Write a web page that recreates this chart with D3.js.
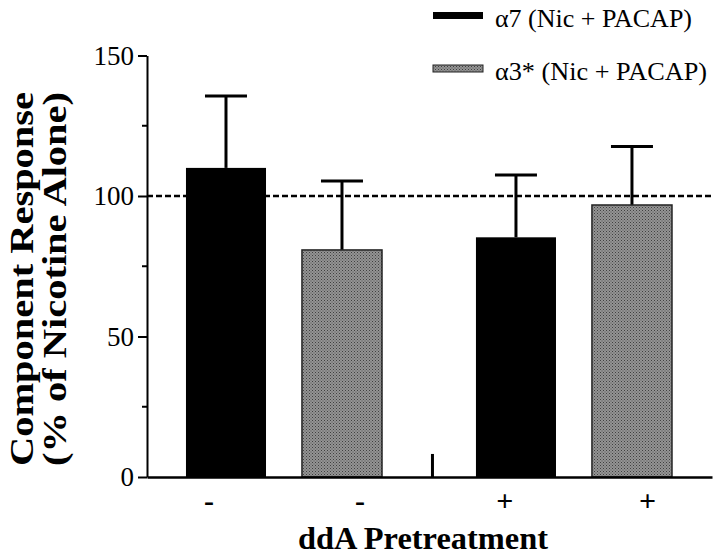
<!DOCTYPE html>
<html><head><meta charset="utf-8">
<script src="https://cdn.jsdelivr.net/npm/d3@7"></script>
<style>body{margin:0;background:#fff}</style></head>
<body>
<svg id="c" width="720" height="555"></svg>
<script>
// ---- data ----
const categories = ["-", "-", "+", "+"];
const seriesOfBar = [0, 1, 0, 1];
const barValues = [110, 80.8, 85.3, 96.8];
const errorTops = [135.6, 105.3, 107.5, 117.6];
const slotIndex = [0, 1, 2.5, 3.5];
const labelSlots = [-0.15, 1.15, 2.4, 3.63];
const spacerSlot = [1.78];
const spacerError = [8.2];
const yTicks = [0, 50, 100, 150];
const yMinorTicks = [25, 75, 125];
const referenceLine = [100];
const legendLabels = ["α7 (Nic + PACAP)", "α3* (Nic + PACAP)"];
const seriesColors = ["#000000", "#8e8e8e"];

const svg = d3.select("#c");
const serif = "Liberation Serif, Times New Roman, serif";

const x = d3.scaleLinear().domain([-0.681, 4.19]).range([147, 712]);
const y = d3.scaleLinear().domain([0, 150]).range([477, 55.5]);
const halfW = 0.345;

// texture pattern for grey bars
const defs = svg.append("defs");
const pat = defs.append("pattern").attr("id", "dots").attr("width", 3).attr("height", 3)
  .attr("patternUnits", "userSpaceOnUse");
pat.append("rect").attr("width", 3).attr("height", 3).attr("fill", "#949494");
pat.append("rect").attr("x", 0).attr("y", 0).attr("width", 1).attr("height", 1).attr("fill", "#404040");
pat.append("rect").attr("x", 1.5).attr("y", 1.5).attr("width", 1).attr("height", 1).attr("fill", "#505050");
const fills = [seriesColors[0], "url(#dots)"];

// reference dashed line
svg.selectAll("line.ref").data(referenceLine).join("line").attr("class", "ref")
  .attr("x1", x(-0.681)).attr("x2", x(4.19))
  .attr("y1", d => y(d)).attr("y2", d => y(d))
  .attr("stroke", "#000").attr("stroke-width", 2.5).attr("stroke-dasharray", "6,3");

// error bars
const eb = svg.append("g");
barValues.forEach((v, i) => {
  const cx = x(slotIndex[i]);
  eb.append("line").attr("x1", cx).attr("x2", cx).attr("y1", y(v)).attr("y2", y(errorTops[i]))
    .attr("stroke", "#000").attr("stroke-width", 3);
  eb.append("line").attr("x1", cx - 21).attr("x2", cx + 21).attr("y1", y(errorTops[i])).attr("y2", y(errorTops[i]))
    .attr("stroke", "#000").attr("stroke-width", 3);
});
spacerSlot.forEach((s, i) => {
  eb.append("line").attr("x1", x(s)).attr("x2", x(s)).attr("y1", y(0)).attr("y2", y(spacerError[i]))
    .attr("stroke", "#000").attr("stroke-width", 3);
});

// bars
svg.append("g").selectAll("rect").data(barValues).join("rect")
  .attr("x", (d, i) => x(slotIndex[i] - halfW))
  .attr("width", (d, i) => x(slotIndex[i] + halfW) - x(slotIndex[i] - halfW))
  .attr("y", d => y(d))
  .attr("height", d => y(0) - y(d))
  .attr("fill", (d, i) => fills[seriesOfBar[i]])
  .attr("stroke", (d, i) => seriesOfBar[i] ? "#222" : "none")
  .attr("stroke-width", 1.5);

// y axis
const yAxis = svg.append("g").attr("transform", `translate(${x(-0.681)},0)`)
  .call(d3.axisLeft(y).tickValues(yTicks).tickSize(9).tickSizeOuter(0).tickPadding(4));
yAxis.attr("font-family", serif);
yAxis.select(".domain").attr("stroke-width", 2);
yAxis.selectAll(".tick line").attr("stroke-width", 2);
yAxis.selectAll("text").attr("font-family", serif).attr("font-size", 27).attr("fill", "#000");
svg.append("g").selectAll("line").data(yMinorTicks).join("line")
  .attr("x1", x(-0.681) - 5).attr("x2", x(-0.681)).attr("y1", d => y(d)).attr("y2", d => y(d))
  .attr("stroke", "#000").attr("stroke-width", 2);

// x axis
const xAxis = svg.append("g").attr("transform", `translate(0,${y(0)})`)
  .call(d3.axisBottom(x).tickValues(labelSlots).tickSize(0).tickSizeOuter(0).tickPadding(13)
    .tickFormat((d, i) => categories[i]));
xAxis.attr("font-family", serif);
xAxis.select(".domain").attr("stroke-width", 2.5);
xAxis.selectAll("text").attr("font-family", serif).attr("font-size", 30).attr("font-weight", "bold").attr("fill", "#000");

// axis titles
svg.append("text").attr("x", 423).attr("y", 549).attr("text-anchor", "middle")
  .attr("font-family", serif).attr("font-weight", "bold").attr("font-size", 31)
  .attr("textLength", 250).attr("lengthAdjust", "spacingAndGlyphs")
  .text("ddA Pretreatment");
const yt = svg.append("g").attr("transform", "translate(0,279) rotate(-90)");
yt.append("text").attr("x", 0).attr("y", 33).attr("text-anchor", "middle")
  .attr("font-family", serif).attr("font-weight", "bold").attr("font-size", 34)
  .attr("textLength", 374).attr("lengthAdjust", "spacingAndGlyphs")
  .text("Component Response");
yt.append("text").attr("x", 0).attr("y", 66).attr("text-anchor", "middle")
  .attr("font-family", serif).attr("font-weight", "bold").attr("font-size", 34)
  .attr("textLength", 374).attr("lengthAdjust", "spacingAndGlyphs")
  .text("(% of Nicotine Alone)");

// legend
const lg = svg.append("g");
legendLabels.forEach((t, i) => {
  const yy = 12 + i * 53;
  lg.append("rect").attr("x", 433).attr("y", yy).attr("width", 50).attr("height", 7)
    .attr("fill", fills[i]).attr("stroke", i ? "#222" : "none").attr("stroke-width", 1);
  lg.append("text").attr("x", 495).attr("y", yy + 15).attr("font-family", serif)
    .attr("font-size", 25).attr("fill", "#000")
    .attr("textLength", i ? 212 : 197).attr("lengthAdjust", "spacingAndGlyphs").text(t);
});
</script>
</body></html>
